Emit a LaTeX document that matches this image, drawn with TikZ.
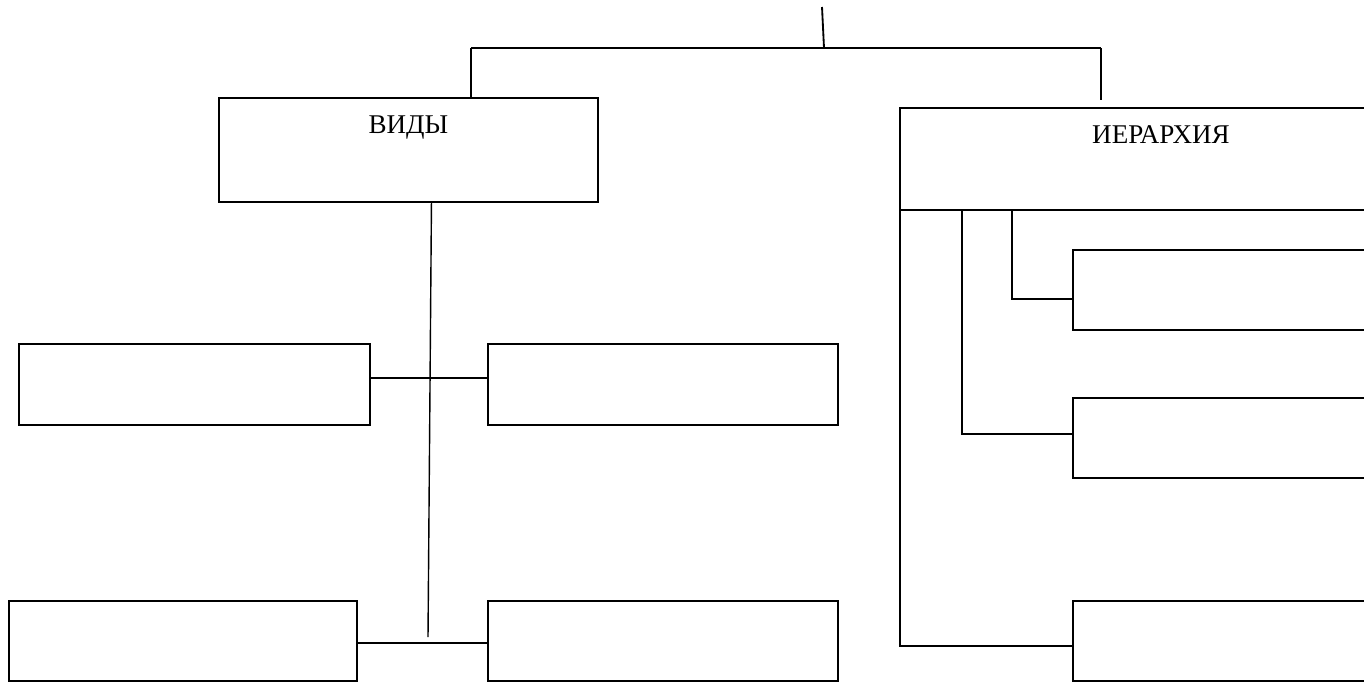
\documentclass[tikz,border=0pt]{standalone}
\usepackage{fontspec}
\setmainfont{Liberation Serif}
\usetikzlibrary{positioning,calc}

\begin{document}
\begin{tikzpicture}[
    x=0.02cm, y=-0.02cm,
    cell/.style={draw, line width=1.05pt, anchor=north west, inner sep=0pt, outer sep=0pt},
    title/.style={font=\fontsize{15.4}{18}\selectfont, anchor=north, inner sep=0pt, yshift=-0.34cm},
    link/.style={line width=1.05pt}
]
\useasboundingbox (0,0) rectangle (1364,684);
\clip (0,0) rectangle (1364,684);

% upper level
\node[cell, minimum width=7.58cm, minimum height=2.08cm, label={[title]north:ВИДЫ}] (vid) at (219,98) {};
\node[cell, minimum width=10.44cm, minimum height=2.04cm, label={[title]north:ИЕРАРХИЯ}] (ier) at (900,108) {};

% left group
\node[cell, minimum width=7.02cm, minimum height=1.62cm] (v1) at (19,344) {};
\node[cell, minimum width=7.0cm, minimum height=1.62cm] (v2) at (488,344) {};
\node[cell, minimum width=6.96cm, minimum height=1.6cm] (v3) at (9,601) {};
\node[cell, minimum width=7.0cm, minimum height=1.6cm] (v4) at (488,601) {};

% right group
\node[cell, minimum width=7.0cm, minimum height=1.6cm] (i1) at (1073,250) {};
\node[cell, minimum width=7.0cm, minimum height=1.6cm] (i2) at (1073,398) {};
\node[cell, minimum width=7.0cm, minimum height=1.6cm] (i3) at (1073,601) {};

\coordinate (top) at (822,7);
\coordinate (hub) at (824,48);
\coordinate (lt) at (471,48);
\coordinate (rt) at (1101,48);
\coordinate (rtend) at (1101,100);
\coordinate (vend) at (428,637);

\draw[link] (top) -- (hub);
\draw[link] (lt) -- (rt);
\draw[link] (lt) -- (lt |- vid.north);
\draw[link] (rt) -- (rtend);

\draw[link, line width=0.8pt] ($(vid.south)+(23,0)$) -- (vend);
\draw[link] ([yshift=0.13cm]v1.east) -- ([yshift=0.13cm]v2.west);
\draw[link] ([yshift=-0.04cm]v3.east) -- ([yshift=-0.04cm]v4.west);

\draw[link] (ier.south west) |- ([yshift=-0.1cm]i3.west);
\draw[link] ([xshift=1.24cm]ier.south west) |- ([yshift=0.08cm]i2.west);
\draw[link] ([xshift=2.24cm]ier.south west) |- ([yshift=-0.18cm]i1.west);
\end{tikzpicture}
\end{document}
